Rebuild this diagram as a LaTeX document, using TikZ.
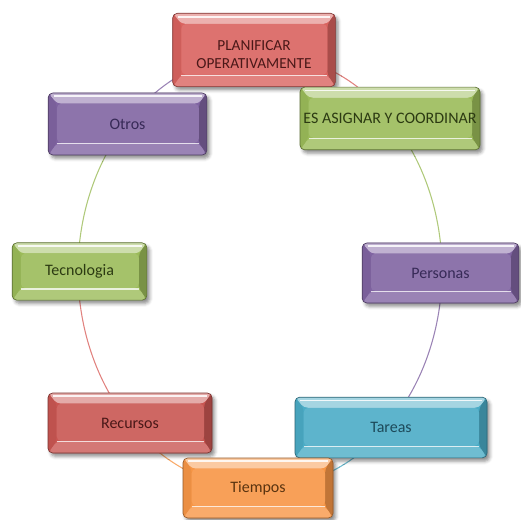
\documentclass[tikz,border=0pt]{standalone}
\usepackage{fontspec}
\setmainfont{Carlito}
\usetikzlibrary{shadows.blur,calc}
\definecolor{cred}{HTML}{D9635F}
\definecolor{cred2}{HTML}{C95652}
\definecolor{cgreen}{HTML}{9BBB59}
\definecolor{cpurple}{HTML}{8064A2}
\definecolor{cblue}{HTML}{4BACC6}
\definecolor{corange}{HTML}{F79646}
\definecolor{tred}{HTML}{4A1818}
\definecolor{tgreen}{HTML}{2C3A12}
\definecolor{tpurple}{HTML}{372A57}
\definecolor{tblue}{HTML}{1D4A5A}
\definecolor{torange}{HTML}{5A3410}
\newcommand\bevelart[1]{%
 \path (path picture bounding box.north west) coordinate (bA)
       (path picture bounding box.north east) coordinate (bB)
       (path picture bounding box.south east) coordinate (bC)
       (path picture bounding box.south west) coordinate (bD);
 \path ([shift={(6.5pt,-8pt)}]bA) coordinate (iA)
       ([shift={(-6pt,-8pt)}]bB) coordinate (iB)
       ([shift={(-6pt,9pt)}]bC) coordinate (iC)
       ([shift={(6.5pt,9pt)}]bD) coordinate (iD);
 \fill[#1!50!white] (bA)--(bB)--(iB)--(iA)--cycle;
 \fill[#1!78!black] (bB)--(bC)--(iC)--(iB)--cycle;
 \fill[#1!80!white] (bC)--(bD)--(iD)--(iC)--cycle;
 \fill[#1!95!black] (bD)--(bA)--(iA)--(iD)--cycle;
 \fill[#1!90!white] (iA) rectangle (iC);
 \draw[white, opacity=0.85, line width=1.3pt] ([shift={(4pt,-2.5pt)}]bA) -- ([shift={(-4pt,-2.5pt)}]bB);
 \draw[white, opacity=0.75, line width=1.1pt] ([shift={(0pt,-0.5pt)}]iD) -- ([shift={(0pt,-0.5pt)}]iC);
}
\tikzset{
 btn/.style={rounded corners=3.5pt, inner sep=0pt, draw=#1!60!black, line width=0.5pt,
   fill=#1, path picture={\bevelart{#1}},
   blur shadow={shadow xshift=2pt, shadow yshift=-2.5pt, shadow blur radius=2.5pt, shadow opacity=45},
   font=\fontsize{12}{14}\selectfont, align=center},
 redbtn/.style={btn=cred, text=tred},
 greenbtn/.style={btn=cgreen, text=tgreen},
 purplebtn/.style={btn=cpurple, text=tpurple},
 bluebtn/.style={btn=cblue, text=tblue},
 orangebtn/.style={btn=corange, text=torange},
 ring/.style={line width=0.8pt}
}
\begin{document}
\begin{tikzpicture}[x=0.75pt,y=-0.75pt]
\useasboundingbox (0,0) rectangle (521,520);
% ring segments
\def\cx{260}\def\cy{271}\def\rx{182}\def\ry{218}
\draw[ring, cred!80] plot[domain=-90:-45, samples=30, smooth] ({\cx+\rx*cos(\x)},{\cy+\ry*sin(\x)});
\draw[ring, cgreen!80] plot[domain=-45:0, samples=30, smooth] ({\cx+\rx*cos(\x)},{\cy+\ry*sin(\x)});
\draw[ring, cpurple!80] plot[domain=0:45, samples=30, smooth] ({\cx+\rx*cos(\x)},{\cy+\ry*sin(\x)});
\draw[ring, cblue!80] plot[domain=45:90, samples=30, smooth] ({\cx+\rx*cos(\x)},{\cy+\ry*sin(\x)});
\draw[ring, corange!80] plot[domain=90:135, samples=30, smooth] ({\cx+\rx*cos(\x)},{\cy+\ry*sin(\x)});
\draw[ring, cred!80] plot[domain=135:180, samples=30, smooth] ({\cx+\rx*cos(\x)},{\cy+\ry*sin(\x)});
\draw[ring, cgreen!80] plot[domain=180:225, samples=30, smooth] ({\cx+\rx*cos(\x)},{\cy+\ry*sin(\x)});
\draw[ring, cpurple!80] plot[domain=225:270, samples=30, smooth] ({\cx+\rx*cos(\x)},{\cy+\ry*sin(\x)});
% boxes
\node[redbtn, minimum width=122pt, minimum height=55pt, font=\fontsize{11.5}{13.5}\selectfont] (plan) at (254,50) {\raisebox{-7.5pt}[0pt][0pt]{\begin{tabular}{@{}c@{}}PLANIFICAR\\OPERATIVAMENTE\end{tabular}}};
\node[purplebtn, minimum width=119pt, minimum height=46.5pt] (otros) at (127.5,124) {Otros};
\node[greenbtn, minimum width=135pt, minimum height=47pt] (asig) at (390,118.5) {ES ASIGNAR Y COORDINAR};
\node[greenbtn, minimum width=101pt, minimum height=43pt] (tec) at (79.5,271.5) {Tecnologia};
\node[purplebtn, minimum width=117.5pt, minimum height=45pt] (pers) at (440.5,273) {Personas};
\node[btn=cred2, text=tred, minimum width=123pt, minimum height=45pt] (rec) at (130,423) {Recursos};
\node[bluebtn, minimum width=144pt, minimum height=45.5pt] (tar) at (391,427.5) {Tareas};
\node[orangebtn, minimum width=112.5pt, minimum height=45pt] (tiem) at (258,488) {Tiempos};
\end{tikzpicture}
\end{document}
